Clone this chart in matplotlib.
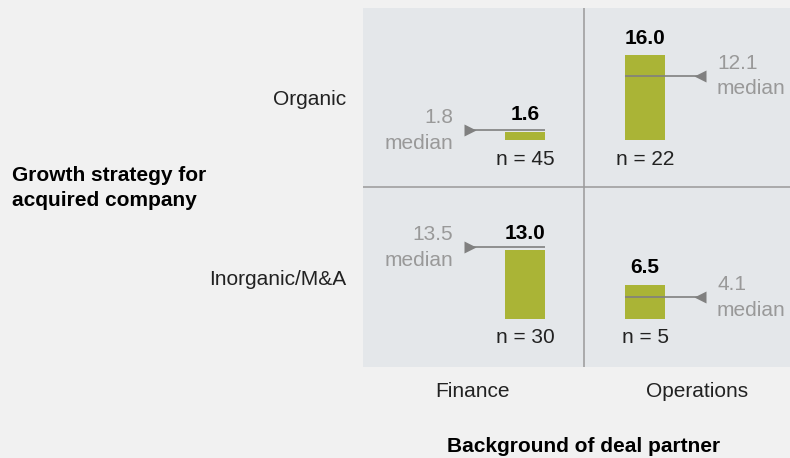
import matplotlib
matplotlib.use("Agg")
from matplotlib import pyplot as plt

plt.rcParams['font.family'] = ['Liberation Sans', 'DejaVu Sans']

# data
partners = ["Finance", "Operations"]
strategies = ["Organic", "Inorganic/M&A"]
values = [[1.6, 16.0], [13.0, 6.5]]      # rows: strategies, cols: partners
medians = [[1.8, 12.1], [13.5, 4.1]]
counts = [[45, 22], [30, 5]]

BAR = "#aab436"
PANEL = "#e4e7ea"
BG = "#f1f1f1"
GREY = "#999999"
LINE = "#808080"
FS = 15

fig = plt.figure(figsize=(7.9, 4.58), dpi=100, facecolor=BG)
ax = fig.add_axes([363 / 790, 91 / 458, 427 / 790, 359 / 458])
ax.set_facecolor(PANEL)
for s in ax.spines.values():
    s.set_visible(False)

ax.set_xlim(-1.35, 2.208)
ax.set_ylim(0, 67.74)
baselines = [42.83, 9.06]
divider_x = 0.4917
divider_y = 33.96
ax.axvline(divider_x, color="#9a9a9a", lw=1.1)
ax.axhline(divider_y, color="#9a9a9a", lw=1.1)

width = 0.333
for r, strat in enumerate(strategies):
    base = baselines[r]
    ax.bar(range(len(partners)), values[r], width=width, bottom=base,
           color=BAR, zorder=2)
    for c in range(len(partners)):
        v = values[r][c]
        m = medians[r][c]
        ax.annotate("%.1f" % v, (c, base + v), xytext=(0, 17),
                    textcoords="offset pixels", ha="center", va="center",
                    fontsize=FS, fontweight="bold", color="black")
        ax.annotate("n = %d" % counts[r][c], (c, base), xytext=(0, -19),
                    textcoords="offset pixels", ha="center", va="center",
                    fontsize=FS, color="#222222")
        if c == 0:
            # median arrow from the left
            ax.plot([-0.5, c + width / 2], [base + m, base + m], color=LINE,
                    lw=1.2, zorder=3, solid_capstyle="butt")
            ax.plot([-0.458], [base + m], marker=">", ms=8, color=LINE,
                    mec="none", zorder=3)
            ax.text(-0.6, base + m, "%.1f\nmedian" % m, ha="right",
                    va="center", fontsize=FS, color=GREY, linespacing=1.45)
        else:
            ax.plot([c - width / 2, 1.5], [base + m, base + m], color=LINE,
                    lw=1.2, zorder=3, solid_capstyle="butt")
            ax.plot([1.458], [base + m], marker="<", ms=8, color=LINE,
                    mec="none", zorder=3)
            ax.text(1.6, base + m, "%.1f\nmedian" % m, ha="left",
                    va="center", fontsize=FS, color=GREY, linespacing=1.45)

ax.set_xticks([-0.44, 1.43])
ax.set_xticklabels(partners, fontsize=FS, color="#222222")
ax.set_yticks([50.85, 16.98])
ax.set_yticklabels(strategies, fontsize=FS, color="#222222")
ax.tick_params(axis="both", length=0)
ax.tick_params(axis="x", pad=11)
ax.tick_params(axis="y", pad=12)

fig.text(12 / 790, 1 - 188 / 458, "Growth strategy for\nacquired company",
         ha="left", va="center", fontsize=FS, fontweight="bold",
         linespacing=1.38)
fig.text(584 / 790, 1 - 446 / 458, "Background of deal partner",
         ha="center", va="center", fontsize=FS, fontweight="bold")

fig.savefig("out.png", dpi=100, facecolor=BG)
